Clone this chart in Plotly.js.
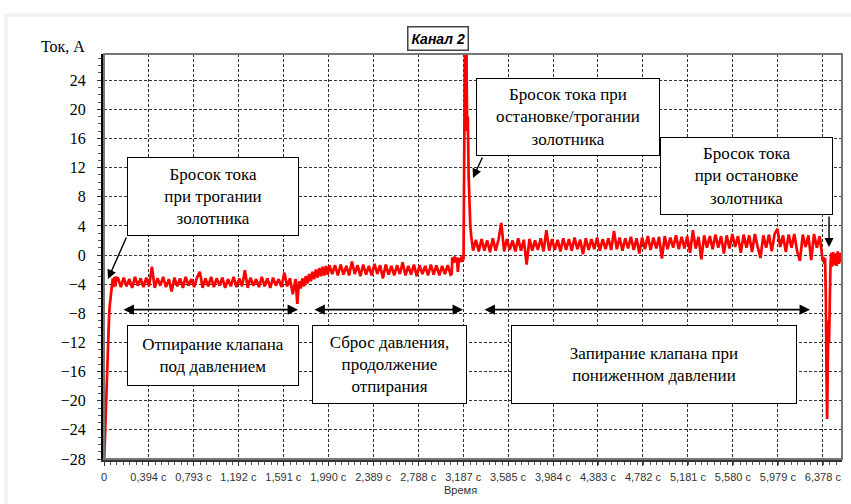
<!DOCTYPE html>
<html>
<head>
<meta charset="utf-8">
<script src="https://cdn.plot.ly/plotly-3.0.1.min.js"></script>
<style>
  html, body { margin: 0; padding: 0; background: #ffffff; }
  #frame { position: absolute; left: 4px; top: 13px; width: 847px; height: 491px; background: #f2f2f2; }
  #panel { position: absolute; left: 8px; top: 17px; width: 843px; height: 487px; background: #ffffff; }
  #chart { position: absolute; left: 0; top: 0; width: 851px; height: 504px; }
</style>
</head>
<body>
<div id="frame"></div>
<div id="panel"></div>
<div id="chart"></div>
<script>
// Time axis ticks (seconds) and their printed labels
const timeTicks = [0, 0.394, 0.793, 1.192, 1.591, 1.990, 2.389, 2.788, 3.187, 3.585, 3.984, 4.383, 4.782, 5.181, 5.580, 5.979, 6.378];
const timeTickText = ["0", "0,394 с", "0,793 с", "1,192 с", "1,591 с", "1,990 с", "2,389 с", "2,788 с", "3,187 с",
  "3,585 с", "3,984 с", "4,383 с", "4,782 с", "5,181 с", "5,580 с", "5,979 с", "6,378 с"];
const currentTicks = [-28, -24, -20, -16, -12, -8, -4, 0, 4, 8, 12, 16, 20, 24];

// Recorded current, [time s, current A], split by phase of the valve cycle
const riseSamples = [[0,-29],[0.004,-27],[0.008,-24.5],[0.012,-22],[0.017,-19.5],[0.022,-17.5],[0.028,-14],
  [0.034,-11.5],[0.04,-9.5],[0.046,-8],[0.052,-6.8],[0.058,-5.6],[0.064,-4.9],[0.07,-4.2],[0.078,-3.2],
  [0.086,-4.4],[0.094,-3.0],[0.102,-4.3],[0.11,-3.1]];

const unsealSamples = [[0.125,-3.2],[0.15,-4.4],[0.175,-3.1],[0.2,-4.3],[0.225,-3.3],[0.25,-4.5],[0.275,-3.0],
  [0.3,-4.2],[0.325,-3.2],[0.35,-4.4],[0.375,-3.1],[0.4,-4.3],[0.425,-1.6],[0.45,-4.5],[0.475,-3.2],[0.5,-4.2],
  [0.525,-3.0],[0.55,-4.4],[0.575,-3.3],[0.6,-5.0],[0.625,-3.1],[0.65,-4.3],[0.675,-3.2],[0.7,-4.5],[0.725,-3.0],
  [0.75,-4.2],[0.775,-3.3],[0.8,-4.4],[0.825,-3.1],[0.85,-2.3],[0.875,-4.5],[0.9,-3.2],[0.925,-4.3],[0.95,-3.0],
  [0.975,-4.4],[1.0,-3.2],[1.025,-4.2],[1.05,-3.1],[1.075,-4.5],[1.1,-3.3],[1.125,-4.3],[1.15,-3.0],[1.175,-4.4],
  [1.2,-3.2],[1.225,-4.3],[1.25,-2.1],[1.275,-4.5],[1.3,-3.1],[1.325,-4.2],[1.35,-3.3],[1.375,-4.4],[1.4,-3.0],
  [1.425,-4.3],[1.45,-3.2],[1.475,-4.5],[1.5,-3.1],[1.525,-4.2],[1.55,-3.3],[1.575,-4.4],[1.6,-2.4],[1.625,-4.3],
  [1.65,-3.2],[1.675,-5.4],[1.7,-3.3]];

const rampSamples = [[1.715,-6.7],[1.73,-3.6],[1.745,-4.6],[1.76,-3.2],[1.775,-4.3],[1.79,-2.9],[1.805,-3.9],
  [1.82,-2.6],[1.835,-3.6],[1.85,-2.3],[1.865,-3.3],[1.88,-2.0],[1.895,-3.1],[1.91,-1.8],[1.925,-2.9],[1.94,-1.6],
  [1.955,-2.8],[1.97,-1.5],[1.985,-2.7],[2.0,-1.4]];

const reliefSamples = [[2.025,-2.6],[2.05,-1.4],[2.075,-2.8],[2.1,-1.3],[2.125,-2.7],[2.15,-1.5],[2.175,-2.8],
  [2.2,-0.9],[2.225,-2.6],[2.25,-1.4],[2.275,-2.9],[2.3,-1.3],[2.325,-2.7],[2.35,-1.5],[2.375,-2.8],[2.4,-1.2],
  [2.425,-2.6],[2.45,-1.4],[2.475,-3.2],[2.5,-1.3],[2.525,-2.7],[2.55,-1.5],[2.575,-2.8],[2.6,-1.4],[2.625,-2.6],
  [2.65,-1.0],[2.675,-2.8],[2.7,-1.5],[2.725,-2.7],[2.75,-1.3],[2.775,-2.9],[2.8,-1.4],[2.825,-2.6],[2.85,-1.5],
  [2.875,-2.8],[2.9,-1.3],[2.925,-2.7],[2.95,-1.4],[2.975,-2.8],[3.0,-1.5],[3.025,-2.6],[3.05,-1.4],[3.075,-2.7]];

const surgeSamples = [[3.085,-2.6],[3.09,-0.3],[3.1,-1.1],[3.11,-0.2],[3.12,-1.0],[3.13,-0.3],[3.14,-2.3],
  [3.15,-0.4],[3.16,-1.0],[3.17,-0.2],[3.18,-0.9],[3.19,-0.5],[3.205,34],[3.215,30],[3.222,17],[3.228,19],
  [3.235,11],[3.242,7],[3.25,4],[3.258,2.6],[3.266,1.8],[3.275,0.6]];

const closingSamples = [[3.3,2.1],[3.325,0.5],[3.35,2.2],[3.375,0.6],[3.4,2.0],[3.425,0.4],[3.45,2.3],[3.475,0.6],
  [3.5,2.1],[3.525,4.4],[3.55,0.5],[3.575,2.2],[3.6,0.7],[3.625,2.0],[3.65,0.5],[3.675,2.3],[3.7,0.6],[3.725,2.1],
  [3.75,-1.3],[3.775,2.2],[3.8,0.6],[3.825,2.0],[3.85,0.7],[3.875,2.3],[3.9,0.5],[3.925,3.4],[3.95,0.6],[3.975,2.2],
  [4.0,0.7],[4.025,2.1],[4.05,0.5],[4.075,2.3],[4.1,0.7],[4.125,2.2],[4.15,0.6],[4.175,2.4],[4.2,0.8],[4.225,2.1],
  [4.25,0.1],[4.275,2.3],[4.3,0.7],[4.325,2.2],[4.35,0.8],[4.375,2.4],[4.4,0.6],[4.425,2.2],[4.45,0.8],[4.475,2.3],
  [4.5,0.7],[4.525,3.3],[4.55,0.8],[4.575,2.4],[4.6,0.6],[4.625,2.3],[4.65,0.9],[4.675,2.5],[4.7,0.7],[4.725,2.3],
  [4.75,0.2],[4.775,2.4],[4.8,0.8],[4.825,2.6],[4.85,0.7],[4.875,2.4],[4.9,0.9],[4.925,2.5],[4.95,-0.5],[4.975,2.6],
  [5.0,0.8],[5.025,2.4],[5.05,1.0],[5.075,2.7],[5.1,0.8],[5.125,2.5],[5.15,0.9],[5.175,2.6],[5.2,0.3],[5.225,3.4],
  [5.25,0.9],[5.275,2.5],[5.3,-0.6],[5.325,2.7],[5.35,1.0],[5.375,2.6],[5.4,0.8],[5.425,2.8],[5.45,1.0],[5.475,2.6],
  [5.5,0.2],[5.525,2.7],[5.55,0.9],[5.575,2.9],[5.6,1.1],[5.625,2.6],[5.65,0.3],[5.675,2.8],[5.7,1.0],[5.725,2.7],
  [5.75,0.4],[5.775,2.9],[5.8,1.1],[5.825,-0.4],[5.85,2.7],[5.875,1.0],[5.9,2.8],[5.925,0.5],[5.95,2.9],[5.975,3.6],
  [6.0,1.1],[6.025,2.7],[6.05,0.4],[6.075,2.8],[6.1,1.0],[6.125,2.9],[6.15,0.5],[6.175,-0.8],[6.2,2.8],[6.225,1.1],
  [6.25,2.7],[6.275,-0.7],[6.3,2.9],[6.325,1.0],[6.35,2.6]];

const stopSamples = [[6.36,1.0],[6.37,-0.2],[6.377,-0.8],[6.385,-0.3],[6.392,-1.2],[6.398,-0.4],[6.405,-6],
  [6.41,-16],[6.416,-22.5],[6.422,-15],[6.428,-9],[6.433,-12],[6.44,-4],[6.446,-1.2],[6.452,0.3],[6.46,-1.6],
  [6.47,0.4],[6.48,-1.4],[6.49,0.2],[6.5,-1.5],[6.51,0.5],[6.52,-1.2],[6.53,0.3],[6.54,-1.0]];

const samples = [].concat(riseSamples, unsealSamples, rampSamples, reliefSamples, surgeSamples, closingSamples, stopSamples);

const trace = {
  type: 'scatter',
  mode: 'lines',
  x: samples.map(p => p[0]),
  y: samples.map(p => p[1]),
  line: { color: '#ff0000', width: 2.7 },
  hoverinfo: 'skip',
  showlegend: false
};

const serif = 'Liberation Serif, Times New Roman, serif';
const sans = 'Liberation Sans, Arial, sans-serif';

// Callout boxes with the commentary on each phase
function noteBox(text, x, y, w, h) {
  return {
    xref: 'x', yref: 'y', x: x, y: y, xanchor: 'center', yanchor: 'middle',
    text: text, showarrow: false, align: 'center', valign: 'middle',
    width: w, height: h, bgcolor: '#ffffff', bordercolor: '#000000', borderwidth: 1, borderpad: 0,
    font: { family: serif, size: 17, color: '#000000' }
  };
}
function pointer(x, y, ax, ay) {
  return {
    xref: 'x', yref: 'y', axref: 'x', ayref: 'y', x: x, y: y, ax: ax, ay: ay, text: '',
    showarrow: true, arrowhead: 2, arrowsize: 1.3, arrowwidth: 1.4, arrowcolor: '#000000', standoff: 0
  };
}
function span(x0, x1, y) {
  return {
    xref: 'x', yref: 'y', axref: 'x', ayref: 'y', x: x1, y: y, ax: x0, ay: y, text: '',
    showarrow: true, arrowside: 'end+start', arrowhead: 2, startarrowhead: 2,
    arrowsize: 1.3, startarrowsize: 1.3, arrowwidth: 1.6, arrowcolor: '#000000', standoff: 0, startstandoff: 0
  };
}

const annotations = [
  // chart title in its framed label
  { xref: 'paper', yref: 'paper', x: 0.452, y: 1.0395, xanchor: 'center', yanchor: 'middle',
    text: '<b><i>Канал 2</i></b>', showarrow: false, bgcolor: '#ffffff', bordercolor: '#444444',
    borderwidth: 1.5, borderpad: 3, font: { family: sans, size: 14, color: '#000000' } },
  // axis captions
  { xref: 'paper', yref: 'paper', x: -0.0881, y: 1.0173, xanchor: 'left', yanchor: 'middle',
    text: 'Ток, А', showarrow: false, font: { family: serif, size: 16, color: '#000000' } },
  { xref: 'paper', yref: 'paper', x: 0.4837, y: -0.0765, xanchor: 'center', yanchor: 'middle',
    text: 'Время', showarrow: false, font: { family: sans, size: 11, color: '#333333' } },

  noteBox('Бросок тока<br>при трогании<br>золотника', 0.967, 8.04, 170, 77),
  noteBox('Бросок тока при<br>остановке/трогании<br>золотника', 4.117, 18.95, 182, 76),
  noteBox('Бросок тока<br>при остановке<br>золотника', 5.701, 10.85, 171, 76),
  noteBox('Отпирание клапана<br>под давлением', 0.967, -13.79, 170, 59),
  noteBox('Сброс давления,<br>продолжение<br>отпирания', 2.533, -15.03, 153, 77),
  noteBox('Запирание клапана при<br>пониженном давлении', 4.880, -15.03, 284, 77),

  pointer(0.0355, -3.29, 0.204, 2.61),
  pointer(3.274, 10.58, 3.363, 13.6),
  pointer(6.433, 1.1, 6.433, 5.5),

  span(0.16, 1.721, -7.5),
  span(1.854, 3.185, -7.5),
  span(3.363, 6.264, -7.5)
];

const gridStyle = { showgrid: true, gridcolor: '#333333', gridwidth: 1, griddash: '3px,2px' };

const layout = {
  width: 851, height: 504,
  margin: { l: 104, r: 9, t: 54, b: 45, pad: 0 },
  paper_bgcolor: 'rgba(0,0,0,0)',
  plot_bgcolor: '#ffffff',
  showlegend: false,
  xaxis: Object.assign({
    range: [0, 6.548], tickmode: 'array', tickvals: timeTicks, ticktext: timeTickText,
    tickfont: { family: sans, size: 11, color: '#333333' },
    ticks: 'outside', ticklen: 4, tickcolor: '#333333', tickwidth: 1, ticklabelstandoff: 2,
    showline: true, linecolor: '#333333', linewidth: 3, zeroline: false,
    minor: { tick0: 0, dtick: 0.057, ticks: 'outside', ticklen: 3, tickcolor: '#555555', showgrid: false }
  }, gridStyle),
  yaxis: Object.assign({
    range: [-28, 27.6], tickmode: 'array', tickvals: currentTicks,
    tickfont: { family: serif, size: 16, color: '#000000' },
    ticks: 'outside', ticklen: 4, tickcolor: '#333333', tickwidth: 1, ticklabelstandoff: 8,
    showline: true, linecolor: '#000000', linewidth: 3, zeroline: false,
    minor: { tick0: 0, dtick: 1, ticks: 'outside', ticklen: 3, tickcolor: '#555555', showgrid: false }
  }, gridStyle),
  shapes: [
    { type: 'rect', xref: 'paper', yref: 'paper', x0: 0, x1: 1, y0: 0, y1: 1,
      line: { color: '#777777', width: 2 }, fillcolor: 'rgba(0,0,0,0)', layer: 'above' }
  ],
  annotations: annotations
};

Plotly.newPlot('chart', [trace], layout, { staticPlot: true, displayModeBar: false });
</script>
</body>
</html>
